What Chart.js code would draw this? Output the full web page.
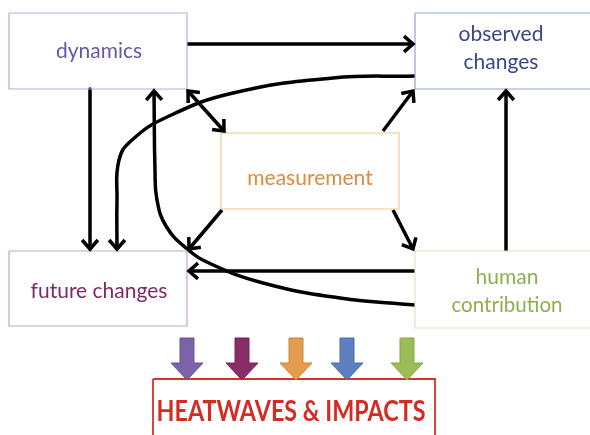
<!DOCTYPE html>
<html>
<head>
<meta charset="utf-8">
<script src="https://cdn.jsdelivr.net/npm/chart.js@4.4.1/dist/chart.umd.min.js"></script>
<style>
  html, body { margin: 0; padding: 0; background: #fff; }
  canvas { display: block; }
</style>
</head>
<body>
<canvas id="diagram" width="590" height="435"></canvas>
<script>
// boxes of the diagram (in picture units, y grows downwards)
var boxLabels = [["dynamics"], ["observed", "changes"], ["measurement"], ["future changes"], ["human", "contribution"], ["HEATWAVES & IMPACTS"]];
var boxLeft   = [9, 415, 221, 9, 415, 153];
var boxTop    = [13, 13, 133, 251, 251, 379];
var boxRight  = [187, 600, 399, 187, 600, 435];
var boxBottom = [89, 89, 209, 326, 328, 445];
var labelX    = [99, 501, 310, 99, 507, 291];
var labelY    = [51, 34, 178, 291, 277, 412];
var labelW    = [86, 85, 129, 137, 111, 269];

// connecting arrows, each one a list of [x, y] points
var edgePaths = [
  [[187, 44], [413, 44]],
  [[90, 89], [90, 249]],
  [[415, 76], [333, 78], [233, 93], [167, 117], [132, 140], [119, 160], [117, 200], [117, 249]],
  [[415, 305], [340, 298], [263, 283], [211, 264], [186, 248], [166, 226], [157, 200], [155, 170], [154, 91]],
  [[188, 91], [224, 131]],
  [[383, 131], [413, 91]],
  [[222, 210], [189, 249]],
  [[393, 210], [413, 249]],
  [[415, 271], [189, 271]],
  [[506, 251], [506, 91]]
];
var edgeHeads = ["end", "end", "end", "end", "both", "end", "end", "end", "end", "end"];
var edgeCurved = [false, false, true, true, false, false, false, false, false, false];

// coloured block arrows into the impacts box
var blockX = [187, 242, 296, 347, 407];
var blockTop = 338, blockNeck = 363, blockTip = 380;

var boxColors  = ["#b6aadb", "#93a3cc", "#f3c591", "#cc9fc5", "#d8e7be", "#d8312a"];
var textColors = ["#6a55a2", "#3b4684", "#e2893b", "#7c2a63", "#8eb04c", "#d42b23"];
var blockColors = ["#7c62a9", "#8a2c68", "#e39d4c", "#5d80c0", "#9bbd56"];
var blockEdges  = ["#6a5294", "#76245a", "#c98638", "#4b6ca8", "#86a645"];

var datasets = [];
boxLabels.forEach(function(lbl, i) {
  datasets.push({
    data: [
      {x: boxLeft[i], y: boxTop[i]}, {x: boxRight[i], y: boxTop[i]},
      {x: boxRight[i], y: boxBottom[i]}, {x: boxLeft[i], y: boxBottom[i]},
      {x: boxLeft[i], y: boxTop[i]}
    ],
    showLine: true,
    borderColor: boxColors[i],
    borderWidth: i == 5 ? 1.8 : 1.2,
    tension: 0,
    pointRadius: 0
  });
});
edgePaths.forEach(function(p, i) {
  datasets.push({
    data: p.map(function(q) { return {x: q[0], y: q[1]}; }),
    showLine: true,
    borderColor: "#000",
    borderWidth: 3.5,
    tension: edgeCurved[i] ? 0.45 : 0,
    borderJoinStyle: "round",
    pointRadius: 0,
    head: edgeHeads[i]
  });
});

function chevron(c, tip, from) {
  var a = Math.atan2(tip.y - from.y, tip.x - from.x);
  var len = 12, spread = 0.72;
  c.beginPath();
  c.moveTo(tip.x - len * Math.cos(a - spread), tip.y - len * Math.sin(a - spread));
  c.lineTo(tip.x, tip.y);
  c.lineTo(tip.x - len * Math.cos(a + spread), tip.y - len * Math.sin(a + spread));
  c.stroke();
}

var diagramPlugin = {
  id: "diagram",
  afterDatasetsDraw: function(chart) {
    var c = chart.ctx, xs = chart.scales.x, ys = chart.scales.y;
    c.save();
    // arrow heads
    c.strokeStyle = "#000";
    c.lineWidth = 3.5;
    c.lineJoin = "miter";
    c.lineCap = "butt";
    chart.data.datasets.forEach(function(ds, i) {
      if (!ds.head) return;
      var pts = chart.getDatasetMeta(i).data;
      var n = pts.length;
      chevron(c, pts[n - 1], pts[n - 2]);
      if (ds.head == "both") chevron(c, pts[0], pts[1]);
    });
    // block arrows
    blockX.forEach(function(bx, i) {
      var px = function(v) { return xs.getPixelForValue(v); };
      var py = function(v) { return ys.getPixelForValue(v); };
      c.fillStyle = blockColors[i];
      c.strokeStyle = blockEdges[i];
      c.lineWidth = 1;
      c.lineJoin = "round";
      c.beginPath();
      c.moveTo(px(bx - 7), py(blockTop));
      c.lineTo(px(bx + 7), py(blockTop));
      c.lineTo(px(bx + 7), py(blockNeck));
      c.lineTo(px(bx + 16), py(blockNeck));
      c.lineTo(px(bx), py(blockTip));
      c.lineTo(px(bx - 16), py(blockNeck));
      c.lineTo(px(bx - 7), py(blockNeck));
      c.closePath();
      c.fill();
      c.stroke();
    });
    // labels
    c.textAlign = "center";
    c.textBaseline = "middle";
    boxLabels.forEach(function(lines, i) {
      c.fillStyle = textColors[i];
      c.font = i == 5 ? "bold 28px Lato" : "21px Lato";
      lines.forEach(function(t, k) {
        c.fillText(t, xs.getPixelForValue(labelX[i]), ys.getPixelForValue(labelY[i] + k * 28), labelW[i]);
      });
    });
    c.restore();
  }
};

var chart = new Chart(document.getElementById("diagram"), {
  type: "scatter",
  data: { datasets: datasets },
  options: {
    responsive: false,
    animation: false,
    layout: { padding: 0 },
    plugins: { legend: { display: false }, tooltip: { enabled: false } },
    scales: {
      x: { type: "linear", min: 0, max: 590, display: false },
      y: { type: "linear", min: 0, max: 435, reverse: true, display: false }
    }
  },
  plugins: [diagramPlugin]
});
</script>
</body>
</html>
